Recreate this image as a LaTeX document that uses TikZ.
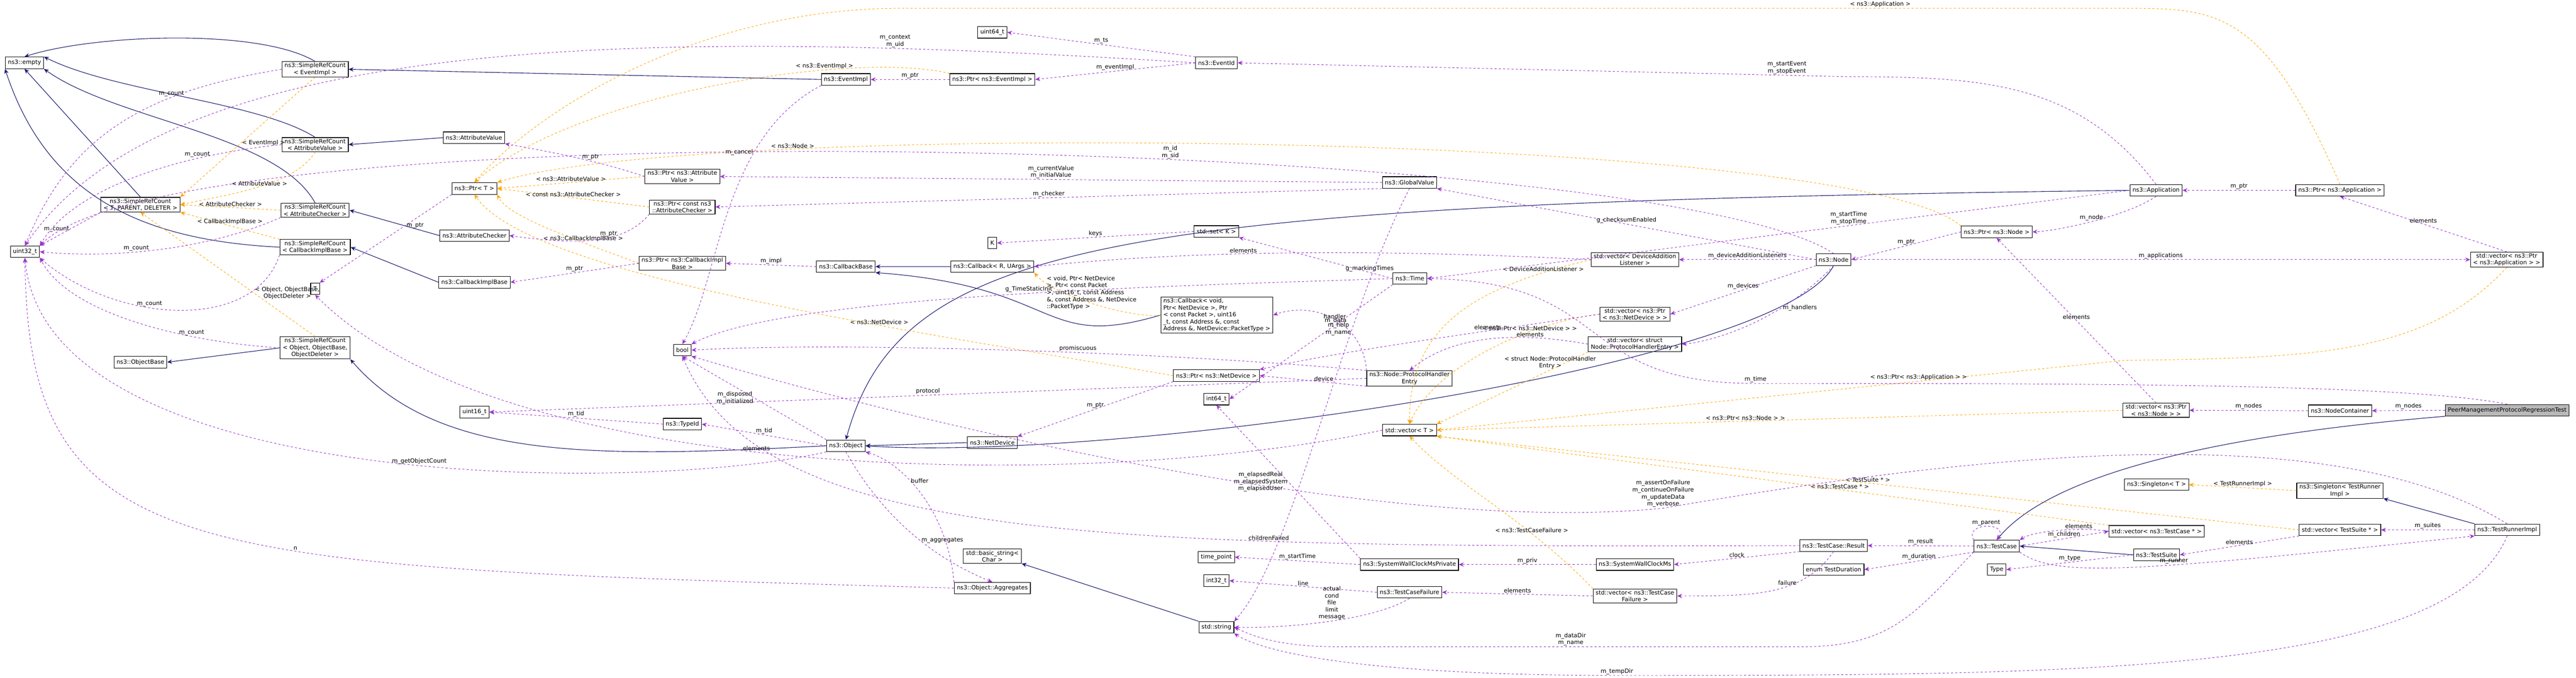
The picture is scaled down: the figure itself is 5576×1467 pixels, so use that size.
\documentclass[tikz,border=0pt]{standalone}
\usepackage{fontspec}
\setmainfont{DejaVu Sans}
\usetikzlibrary{arrows.meta,positioning}
\definecolor{inhcol}{HTML}{191970}
\definecolor{usecol}{HTML}{9A32CD}
\definecolor{tplcol}{HTML}{FFA500}
\tikzset{
  cls/.style={draw, line width=0.35pt, fill=white, font=\fontsize{3.6}{4.3}\selectfont,
    inner xsep=1.6pt, inner ysep=0.8pt, minimum height=0.25cm, align=center},
  sel/.style={cls, fill=gray!55},
  lbl/.style={font=\fontsize{3.6}{4.3}\selectfont, inner sep=0.5pt, align=center, text=black},
  inh/.style={draw=inhcol, line width=0.35pt, -{Stealth[length=3pt,width=2.6pt]}},
  use/.style={draw=usecol, line width=0.3pt, dash pattern=on 1.3pt off 1.3pt, -{Stealth[length=3pt,width=2.6pt]}},
  tpl/.style={draw=tplcol, line width=0.3pt, dash pattern=on 1.3pt off 1.3pt, -{Stealth[length=3pt,width=2.6pt]}}
}
\begin{document}
\begin{tikzpicture}[x=0.01cm, y=-0.01cm]
  \useasboundingbox (0,0) rectangle (5576,1467);
  % left column
  \node[cls] (empty) at (53,136) {ns3::empty};
  \node[cls] (uint32) at (54,545) {uint32\_t};
  \node[cls] (srcEv) at (682,150) {ns3::SimpleRefCount\\< EventImpl >};
  \node[cls] (srcAv) at (682,313) {ns3::SimpleRefCount\\< AttributeValue >};
  \node[cls] (srcTpd) at (304,443) {ns3::SimpleRefCount\\< T, PARENT, DELETER >};
  \node[cls] (srcAc) at (682,455) {ns3::SimpleRefCount\\< AttributeChecker >};
  \node[cls] (srcCib) at (682,535) {ns3::SimpleRefCount\\< CallbackImplBase >};
  \node[cls] (srcObj) at (682,753) {ns3::SimpleRefCount\\< Object, ObjectBase,\\ObjectDeleter >};
  \node[cls] (objBase) at (304,784) {ns3::ObjectBase};
  \node[cls] (tT) at (682,625) {T};
  \node[cls] (attrVal) at (1026,298) {ns3::AttributeValue};
  \node[cls] (ptrT) at (1027,408) {ns3::Ptr< T >};
  \node[cls] (attrChk) at (1027,510) {ns3::AttributeChecker};
  \node[cls] (cbImpl) at (1027,611) {ns3::CallbackImplBase};
  \node[cls] (uint16) at (1027,892) {uint16\_t};
  % second column
  \node[cls] (ptrAv) at (1477,382) {ns3::Ptr< ns3::Attribute\\Value >};
  \node[cls] (ptrAc) at (1477,448) {ns3::Ptr< const ns3\\::AttributeChecker >};
  \node[cls] (ptrCib) at (1477,570) {ns3::Ptr< ns3::CallbackImpl\\Base >};
  \node[cls] (bool) at (1477,758) {bool};
  \node[cls] (typeId) at (1477,918) {ns3::TypeId};
  \node[cls] (evImpl) at (1831,172) {ns3::EventImpl};
  \node[cls] (cbBase) at (1831,577) {ns3::CallbackBase};
  \node[cls] (object) at (1831,965) {ns3::Object};
  % third column
  \node[cls] (uint64) at (2148,70) {uint64\_t};
  \node[cls] (ptrEv) at (2148,172) {ns3::Ptr< ns3::EventImpl >};
  \node[cls] (kK) at (2148,526) {K};
  \node[cls] (cbRu) at (2148,577) {ns3::Callback< R, UArgs >};
  \node[cls] (netDev) at (2148,958) {ns3::NetDevice};
  \node[cls] (basicStr) at (2148,1204) {std::basic\_string<\\Char >};
  \node[cls] (aggr) at (2148,1273) {ns3::Object::Aggregates};
  \node[cls] (evId) at (2633,136) {ns3::EventId};
  \node[cls] (setK) at (2633,501) {std::set< K >};
  \node[cls, align=left] (cbVoid) at (2634,682) {ns3::Callback< void,\\ Ptr< NetDevice >, Ptr\\< const Packet >, uint16\\\_t, const Address \&, const\\ Address \&, NetDevice::PacketType >};
  \node[cls] (ptrNd) at (2633,813) {ns3::Ptr< ns3::NetDevice >};
  \node[cls] (int64) at (2633,864) {int64\_t};
  \node[cls] (timePt) at (2633,1206) {time\_point};
  \node[cls] (int32) at (2633,1257) {int32\_t};
  \node[cls] (str) at (2633,1358) {std::string};
  % fourth column
  \node[cls] (globVal) at (3051,395) {ns3::GlobalValue};
  \node[cls] (time) at (3052,603) {ns3::Time};
  \node[cls] (phe) at (3051,819) {ns3::Node::ProtocolHandler\\Entry};
  \node[cls] (vecT) at (3051,931) {std::vector< T >};
  \node[cls] (swcmp) at (3051,1222) {ns3::SystemWallClockMsPrivate};
  \node[cls] (tcf) at (3051,1282) {ns3::TestCaseFailure};
  \node[cls] (vecDal) at (3539,562) {std::vector< DeviceAddition\\Listener >};
  \node[cls] (vecNd) at (3539,680) {std::vector< ns3::Ptr\\< ns3::NetDevice > >};
  \node[cls] (vecPhe) at (3539,745) {std::vector< struct\\ Node::ProtocolHandlerEntry >};
  \node[cls] (swcm) at (3539,1222) {ns3::SystemWallClockMs};
  \node[cls] (vecTcf) at (3539,1290) {std::vector< ns3::TestCase\\Failure >};
  \node[cls] (nNode) at (3969,562) {ns3::Node};
  \node[cls] (result) at (3969,1181) {ns3::TestCase::Result};
  \node[cls] (testDur) at (3969,1233) {enum TestDuration};
  % right part
  \node[cls] (ptrNode) at (4322,502) {ns3::Ptr< ns3::Node >};
  \node[cls] (testCase) at (4322,1182) {ns3::TestCase};
  \node[cls] (type) at (4322,1233) {Type};
  \node[cls] (app) at (4667,412) {ns3::Application};
  \node[cls] (vecNode) at (4667,888) {std::vector< ns3::Ptr\\< ns3::Node > >};
  \node[cls] (singT) at (4668,1049) {ns3::Singleton< T >};
  \node[cls] (vecTc) at (4668,1150) {std::vector< ns3::TestCase * >};
  \node[cls] (testSuite) at (4668,1201) {ns3::TestSuite};
  \node[cls] (ptrApp) at (5065,412) {ns3::Ptr< ns3::Application >};
  \node[cls] (nodeCont) at (5065,889) {ns3::NodeContainer};
  \node[cls] (singTr) at (5065,1062) {ns3::Singleton< TestRunner\\Impl >};
  \node[cls] (vecTs) at (5065,1147) {std::vector< TestSuite * >};
  \node[cls] (vecApp) at (5426,562) {std::vector< ns3::Ptr\\< ns3::Application > >};
  \node[sel] (peer) at (5427,888) {PeerManagementProtocolRegressionTest};
  \node[cls] (runner) at (5427,1147) {ns3::TestRunnerImpl};

  % inheritance
  \draw[inh] (srcEv.north) .. controls (560,60) and (200,75) .. (empty.north);
  \draw[inh] (srcAv.north) .. controls (560,220) and (250,200) .. (empty.north east);
  \draw[inh] (srcTpd.north) -- (empty.south);
  \draw[inh] (srcAc.north) .. controls (600,290) and (250,260) .. (empty.south east);
  \draw[inh] (srcCib.west) .. controls (300,520) and (100,420) .. (empty.south west);
  \draw[inh] (evImpl.west) -- (srcEv.east);
  \draw[inh] (attrVal.west) -- (srcAv.east);
  \draw[inh] (attrChk.west) -- (srcAc.east);
  \draw[inh] (cbImpl.west) -- (srcCib.east);
  \draw[inh] (srcObj.west) -- (objBase.east);
  \draw[inh] (object.west) .. controls (1300,990) and (950,1000) .. (srcObj.south east);
  \draw[inh] (netDev.west) -- (object.east);
  \draw[inh] (nNode.south) .. controls (3850,800) and (2400,1000) .. (object.east);
  \draw[inh] (app.west) .. controls (2400,440) and (1950,520) .. (object.north);
  \draw[inh] (cbRu.west) -- (cbBase.east);
  \draw[inh] (cbVoid.west) .. controls (2250,760) and (2300,620) .. (cbBase.south east);
  \draw[inh] (str.north west) -- (basicStr.south east);
  \draw[inh] (peer.south west) .. controls (4700,950) and (4420,1050) .. (testCase.north);
  \draw[inh] (testSuite.west) -- (testCase.east);
  \draw[inh] (runner.north west) -- (singTr.south east);

  % templates
  \draw[tpl] (srcEv.south) -- node[lbl, pos=0.55, right]{< EventImpl >} (srcTpd.north east);
  \draw[tpl] (srcAv.south) .. controls (640,400) and (500,420) .. node[lbl, pos=0.5, above]{< AttributeValue >} (srcTpd.east);
  \draw[tpl] (srcAc.west) -- node[lbl, above]{< AttributeChecker >} (srcTpd.east);
  \draw[tpl] (srcCib.north west) -- node[lbl, above]{< CallbackImplBase >} (srcTpd.south east);
  \draw[tpl] (srcObj.north) -- node[lbl, pos=0.35, right]{< Object, ObjectBase,\\ObjectDeleter >} (srcTpd.south);
  \draw[tpl] (ptrEv.north west) .. controls (1850,110) and (1250,200) .. node[lbl, pos=0.3, above]{< ns3::EventImpl >} (ptrT.north);
  \draw[tpl] (ptrAv.west) -- node[lbl, above]{< ns3::AttributeValue >} (ptrT.east);
  \draw[tpl] (ptrAc.west) -- node[lbl, above]{< const ns3::AttributeChecker >} (ptrT.east);
  \draw[tpl] (ptrCib.west) .. controls (1250,520) and (1100,470) .. node[lbl, pos=0.3, above]{< ns3::CallbackImplBase >} (ptrT.south east);
  \draw[tpl] (ptrNd.west) .. controls (2000,720) and (1150,600) .. node[lbl, pos=0.35, above]{< ns3::NetDevice >} (ptrT.south);
  \draw[tpl] (ptrNode.north west) .. controls (4000,280) and (1500,260) .. node[lbl, pos=0.75, above]{< ns3::Node >} (ptrT.north east);
  \draw[tpl] (ptrApp.north) .. controls (4900,20) and (4800,18) .. (4600,18) -- node[lbl, pos=0.2, above]{< ns3::Application >} (1950,18) .. controls (1500,18) and (1150,250) .. (ptrT.north);
  \draw[tpl] (cbVoid.west) .. controls (2450,690) and (2280,640) .. node[lbl, pos=1, anchor=north west, xshift=0.25cm, yshift=-0.05cm, align=left]{< void, Ptr< NetDevice\\>, Ptr< const Packet\\>, uint16\_t, const Address\\\&, const Address \&, NetDevice\\::PacketType >} (cbRu.south east);
  \draw[tpl] (vecDal.west) .. controls (3200,620) and (3050,700) .. node[lbl, pos=0.15, above]{< DeviceAdditionListener >} (vecT.north);
  \draw[tpl] (vecNd.west) .. controls (3300,700) and (3100,800) .. node[lbl, pos=0.3, above]{< ns3::Ptr< ns3::NetDevice > >} (vecT.north);
  \draw[tpl] (vecPhe.south west) -- node[lbl, pos=0.25, above]{< struct Node::ProtocolHandler\\Entry >} (vecT.north east);
  \draw[tpl] (vecApp.south) .. controls (5250,770) and (5000,775) .. (4600,780) -- node[lbl, pos=0.3, above]{< ns3::Ptr< ns3::Application > >} (vecT.east);
  \draw[tpl] (vecNode.west) -- node[lbl, pos=0.55, above]{< ns3::Ptr< ns3::Node > >} (vecT.east);
  \draw[tpl] (vecTs.west) -- node[lbl, pos=0.5, above]{< TestSuite * >} (vecT.south east);
  \draw[tpl] (vecTc.north west) -- node[lbl, pos=0.4, above]{< ns3::TestCase * >} (vecT.south east);
  \draw[tpl] (vecTcf.north west) .. controls (3300,1120) and (3150,1050) .. node[lbl, pos=0.3, above]{< ns3::TestCaseFailure >} (vecT.south);
  \draw[tpl] (singTr.west) -- node[lbl, above]{< TestRunnerImpl >} (singT.east);

  % usage
  \draw[use] (srcEv.west) .. controls (300,200) and (150,300) .. node[lbl, pos=0.3, above]{m\_count} (uint32.north);
  \draw[use] (srcAv.west) .. controls (350,340) and (150,420) .. node[lbl, pos=0.25, above]{m\_count} (uint32.north east);
  \draw[use] (srcTpd.south west) -- node[lbl, left]{m\_count} (uint32.north east);
  \draw[use] (srcAc.south west) .. controls (450,540) and (250,560) .. node[lbl, pos=0.6, above]{m\_count} (uint32.east);
  \draw[use] (srcCib.south west) .. controls (550,720) and (250,700) .. node[lbl, pos=0.6, above]{m\_count} (uint32.south east);
  \draw[use] (srcObj.west) .. controls (400,740) and (150,680) .. node[lbl, pos=0.3, above]{m\_count} (uint32.south east);
  \draw[use] (evId.west) .. controls (1500,68) and (380,50) .. node[lbl, pos=0.2, above]{m\_context\\m\_uid} (uint32.north);
  \draw[use] (evId.north west) -- node[lbl, above]{m\_ts} (uint64.east);
  \draw[use] (evId.west) -- node[lbl, above]{m\_eventImpl} (ptrEv.east);
  \draw[use] (ptrEv.west) -- node[lbl, above]{m\_ptr} (evImpl.east);
  \draw[use] (evImpl.south west) .. controls (1560,300) and (1560,600) .. node[lbl, pos=0.3, left]{m\_cancel} (bool.north);
  \draw[use] (app.north) .. controls (4500,180) and (4300,166) .. (4000,166) -- node[lbl, pos=0.1, above]{m\_startEvent\\m\_stopEvent} (evId.east);
  \draw[use] (nNode.north) .. controls (3600,300) and (400,220) .. node[lbl, pos=0.4, above]{m\_id\\m\_sid} (uint32.north east);
  \draw[use] (ptrAv.west) .. controls (1300,350) and (1200,330) .. node[lbl, pos=0.4, above]{m\_ptr} (attrVal.south east);
  \draw[use] (ptrAc.south west) .. controls (1350,530) and (1250,530) .. node[lbl, pos=0.4, above]{m\_ptr} (attrChk.east);
  \draw[use] (ptrCib.west) -- node[lbl, above]{m\_ptr} (cbImpl.east);
  \draw[use] (ptrT.south west) -- node[lbl, pos=0.35, right]{m\_ptr} (tT.north east);
  \draw[use] (globVal.west) -- node[lbl, above]{m\_currentValue\\m\_initialValue} (ptrAv.east);
  \draw[use] (globVal.south west) -- node[lbl, above]{m\_checker} (ptrAc.east);
  \draw[use] (nNode.west) -- node[lbl, pos=0.5, above]{g\_checksumEnabled} (globVal.south east);
  \draw[use] (cbBase.west) -- node[lbl, above]{m\_impl} (ptrCib.east);
  \draw[use] (setK.west) -- node[lbl, above]{keys} (kK.east);
  \draw[use] (time.west) -- node[lbl, pos=0.15, above]{g\_markingTimes} (setK.south east);
  \draw[use] (time.west) .. controls (2500,620) and (1700,640) .. node[lbl, pos=0.45, above]{g\_TimeStaticInit} (bool.north east);
  \draw[use] (time.south west) -- node[lbl, pos=0.35, above]{m\_data} (int64.east);
  \draw[use] (globVal.south) .. controls (2900,700) and (2800,1200) .. node[lbl, pos=0.3, left]{m\_help\\m\_name} (str.north east);
  \draw[use] (phe.north west) .. controls (2950,700) and (2850,650) .. node[lbl, pos=0.5, above]{handler} (cbVoid.east);
  \draw[use] (phe.south west) -- node[lbl, pos=0.4, above]{device} (ptrNd.east);
  \draw[use] (phe.west) -- node[lbl, pos=0.5, above]{protocol} (uint16.east);
  \draw[use] (phe.north west) .. controls (2500,760) and (1800,740) .. node[lbl, pos=0.4, above]{promiscuous} (bool.east);
  \draw[use] (ptrNd.south west) -- node[lbl, pos=0.5, above]{m\_ptr} (netDev.north east);
  \draw[use] (vecNd.west) .. controls (3200,720) and (2900,760) .. node[lbl, pos=0.3, above]{elements} (ptrNd.north east);
  \draw[use] (vecDal.west) .. controls (3000,540) and (2600,540) .. node[lbl, pos=0.6, above]{elements} (cbRu.east);
  \draw[use] (vecPhe.west) .. controls (3300,720) and (3150,720) .. node[lbl, pos=0.3, above]{elements} (phe.north);
  \draw[use] (nNode.west) -- node[lbl, above]{m\_deviceAdditionListeners} (vecDal.east);
  \draw[use] (nNode.south west) -- node[lbl, above]{m\_devices} (vecNd.east);
  \draw[use] (nNode.south) .. controls (3850,700) and (3700,740) .. node[lbl, pos=0.3, right]{m\_handlers} (vecPhe.east);
  \draw[use] (object.west) -- node[lbl, above]{m\_tid} (typeId.east);
  \draw[use] (typeId.west) -- node[lbl, above]{m\_tid} (uint16.east);
  \draw[use] (object.north west) -- node[lbl, pos=0.5, left]{m\_disposed\\m\_initialized} (bool.south);
  \draw[use] (object.south) .. controls (1900,1100) and (2000,1200) .. node[lbl, pos=0.6, right]{m\_aggregates} (aggr.north);
  \draw[use] (aggr.north west) .. controls (2050,1100) and (1950,1000) .. node[lbl, pos=0.6, right]{buffer} (object.south east);
  \draw[use] (aggr.west) .. controls (400,1225) and (60,1225) .. node[lbl, pos=0.4, above]{n} (uint32.south);
  \draw[use] (object.south west) .. controls (1400,1069) and (100,1069) .. node[lbl, pos=0.45, above]{m\_getObjectCount} (uint32.south);
  \draw[use] (vecT.west) .. controls (2400,1060) and (1100,1060) .. node[lbl, pos=0.55, above]{elements} (tT.south);
  \draw[use] (app.west) -- node[lbl, pos=0.4, above]{m\_startTime\\m\_stopTime} (time.east);
  \draw[use] (app.south) .. controls (4600,470) and (4450,500) .. node[lbl, pos=0.5, above]{m\_node} (ptrNode.east);
  \draw[use] (ptrNode.west) -- node[lbl, above]{m\_ptr} (nNode.east);
  \draw[use] (nNode.east) -- node[lbl, above]{m\_applications} (vecApp.west);
  \draw[use] (vecApp.north) -- node[lbl, above]{elements} (ptrApp.south);
  \draw[use] (ptrApp.west) -- node[lbl, above]{m\_ptr} (app.east);
  \draw[use] (vecNode.north) -- node[lbl, above]{elements} (ptrNode.south);
  \draw[use] (nodeCont.west) -- node[lbl, above]{m\_nodes} (vecNode.east);
  \draw[use] (peer.west) -- node[lbl, above]{m\_nodes} (nodeCont.east);
  \draw[use] (peer.north) .. controls (5200,830) and (4500,830) .. (3800,830) .. controls (3400,830) and (3500,610) .. node[lbl, pos=0, above]{m\_time} (time.east);
  \draw[use] (swcmp.north west) -- node[lbl, pos=0.5, left]{m\_elapsedReal\\m\_elapsedSystem\\m\_elapsedUser} (int64.south);
  \draw[use] (swcmp.west) -- node[lbl, above]{m\_startTime} (timePt.east);
  \draw[use] (swcm.west) -- node[lbl, above]{m\_priv} (swcmp.east);
  \draw[use] (result.south west) -- node[lbl, above]{clock} (swcm.east);
  \draw[use] (result.south) .. controls (3900,1290) and (3800,1290) .. node[lbl, pos=0.4, above]{failure} (vecTcf.east);
  \draw[use] (result.west) .. controls (2400,1185) and (1650,1180) .. node[lbl, pos=0.3, above]{childrenFailed} (bool.south);
  \draw[use] (vecTcf.west) -- node[lbl, above]{elements} (tcf.east);
  \draw[use] (tcf.west) -- node[lbl, above]{line} (int32.east);
  \draw[use] (tcf.south) .. controls (2980,1340) and (2800,1360) .. node[lbl, pos=0.5, above]{actual\\cond\\file\\limit\\message} (str.east);
  \draw[use] (testCase.west) -- node[lbl, above]{m\_result} (result.east);
  \draw[use] (testCase.south west) -- node[lbl, above]{m\_duration} (testDur.east);
  \draw[use] (testCase.south west) .. controls (4150,1320) and (4100,1400) .. (3900,1400) -- node[lbl, above]{m\_dataDir\\m\_name} (2900,1400) .. controls (2750,1400) and (2700,1370) .. (str.east);
  \draw[use] (testCase.north west) .. controls (4250,1130) and (4350,1130) .. node[lbl, above]{m\_parent} (testCase.north);
  \draw[use] (testCase.east) -- node[lbl, above]{m\_children} (vecTc.west);
  \draw[use] (vecTc.west) .. controls (4500,1140) and (4400,1150) .. node[lbl, pos=0.3, above]{elements} (testCase.north east);
  \draw[use] (testCase.south east) .. controls (4450,1250) and (4600,1240) .. node[lbl, pos=0.6, above]{m\_runner} (runner.south west);
  \draw[use] (vecTs.south west) -- node[lbl, above]{elements} (testSuite.east);
  \draw[use] (testSuite.west) -- node[lbl, above]{m\_type} (type.east);
  \draw[use] (runner.west) -- node[lbl, above]{m\_suites} (vecTs.east);
  \draw[use] (runner.south) .. controls (5300,1460) and (4500,1462) .. (3500,1462) .. controls (3000,1462) and (2750,1420) .. node[lbl, pos=0, above]{m\_tempDir} (str.south east);
  \draw[use] (runner.north) .. controls (5050,900) and (4300,980) .. (3600,1100) .. controls (3000,1160) and (2000,920) .. node[lbl, pos=0, above]{m\_assertOnFailure\\m\_continueOnFailure\\m\_updateData\\m\_verbose} (bool.south east);
\end{tikzpicture}
\end{document}
